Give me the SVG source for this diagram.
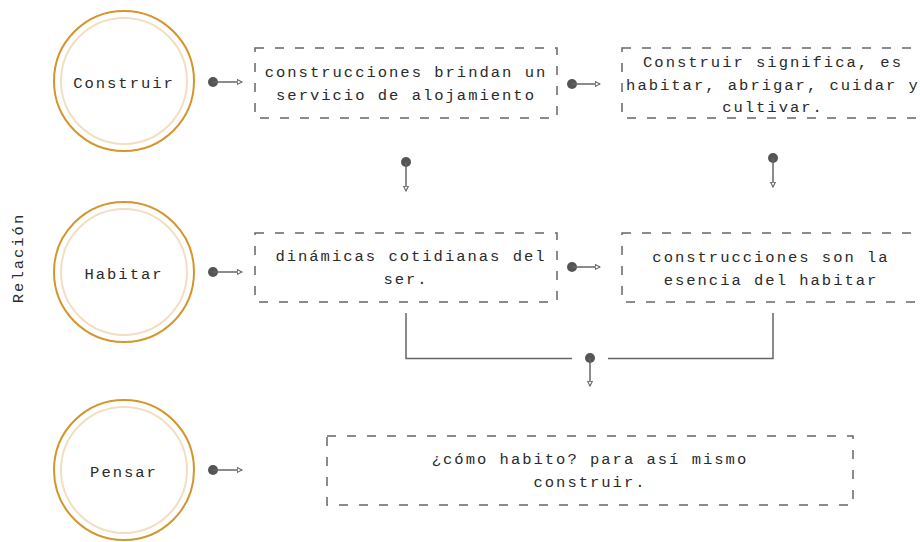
<svg xmlns="http://www.w3.org/2000/svg" width="920" height="542" viewBox="0 0 920 542">
<defs>
<style>
.t{font-family:"Liberation Mono","DejaVu Sans Mono",monospace;font-size:15.5px;letter-spacing:2px;fill:#2a2a2a;text-anchor:middle}
.outer{fill:#fff;stroke:#D4962A;stroke-width:2}
.inner{fill:none;stroke:#F1DFC3;stroke-width:2}
.box{fill:#fff;stroke:#666;stroke-width:1.5;stroke-dasharray:9 11}
.ln{fill:none;stroke:#666;stroke-width:1.5}
.dot{fill:#555}
</style>
<marker id="ah" viewBox="0 0 10 10" refX="9" refY="5" markerWidth="6" markerHeight="6" orient="auto" markerUnits="userSpaceOnUse">
<path d="M1,1 L9,5 L1,9 Z" fill="#fff" stroke="#666" stroke-width="1.8"/>
</marker>
</defs>
<rect width="920" height="542" fill="#fff"/>
<text class="t" transform="translate(23,258) rotate(-90)">Relación</text>
<g id="construir"><circle class="outer" cx="124" cy="81" r="70"/><circle class="inner" cx="124" cy="81" r="63"/><text class="t" x="124" y="88">Construir</text></g>
<g id="habitar"><circle class="outer" cx="124" cy="272" r="70"/><circle class="inner" cx="124" cy="272" r="63"/><text class="t" x="124" y="279">Habitar</text></g>
<g id="pensar"><circle class="outer" cx="124" cy="470" r="70"/><circle class="inner" cx="124" cy="470" r="63"/><text class="t" x="124" y="477">Pensar</text></g>
<g id="box1"><rect class="box" x="255" y="48" width="302" height="70"/><text class="t" x="406" y="77">construcciones brindan un</text><text class="t" x="406" y="100">servicio de alojamiento</text></g>
<g id="box2"><rect class="box" x="622" y="48" width="302" height="70"/><text class="t" x="773" y="67">Construir significa, es</text><text class="t" x="773" y="90">habitar, abrigar, cuidar y</text><text class="t" x="773" y="112">cultivar.</text></g>
<g id="box3"><rect class="box" x="255" y="233" width="302" height="69"/><text class="t" x="411" y="261">dinámicas cotidianas del</text><text class="t" x="406" y="284">ser.</text></g>
<g id="box4"><rect class="box" x="622" y="233" width="302" height="69"/><text class="t" x="771" y="262">construcciones son la</text><text class="t" x="771" y="285">esencia del habitar</text></g>
<g id="box5"><rect class="box" x="327" y="436" width="526" height="69"/><text class="t" x="590" y="464">¿cómo habito? para así mismo</text><text class="t" x="590" y="487">construir.</text></g>
<g id="connectors">
<circle class="dot" cx="213" cy="82" r="5"/><path class="ln" d="M213,82 H242" marker-end="url(#ah)"/>
<circle class="dot" cx="572" cy="84" r="5"/><path class="ln" d="M572,84 H600" marker-end="url(#ah)"/>
<circle class="dot" cx="406" cy="162" r="5"/><path class="ln" d="M406,162 V191" marker-end="url(#ah)"/>
<circle class="dot" cx="773" cy="158" r="5"/><path class="ln" d="M773,158 V187" marker-end="url(#ah)"/>
<circle class="dot" cx="213" cy="272" r="5"/><path class="ln" d="M213,272 H242" marker-end="url(#ah)"/>
<circle class="dot" cx="572" cy="267" r="5"/><path class="ln" d="M572,267 H600" marker-end="url(#ah)"/>
<path class="ln" d="M406,313 V358.5 H572"/>
<path class="ln" d="M773,313 V358.5 H608"/>
<circle class="dot" cx="590" cy="358" r="5"/><path class="ln" d="M590,358 V386" marker-end="url(#ah)"/>
<circle class="dot" cx="213" cy="470" r="5"/><path class="ln" d="M213,470 H242" marker-end="url(#ah)"/>
</g>
</svg>
